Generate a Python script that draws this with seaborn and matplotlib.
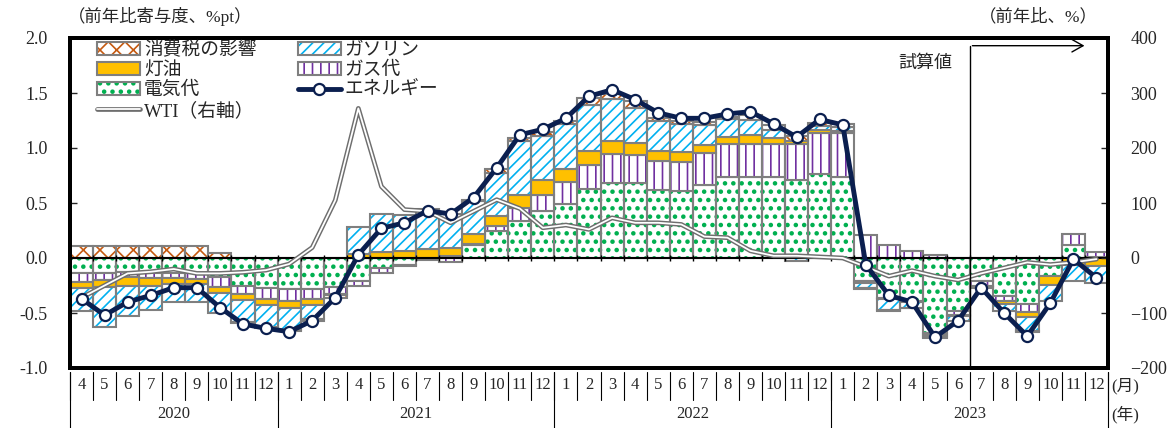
import matplotlib
matplotlib.use("Agg")
import matplotlib.hatch
import matplotlib.pyplot as plt
import numpy as np
import pandas as pd
import seaborn as sns
from matplotlib.lines import Line2D
from matplotlib.patches import Patch

# months from 2020/4 to 2023/12
months = list(range(4, 13)) + list(range(1, 13)) * 3
years = ["2020", "2021", "2022", "2023"]
year_lengths = [9, 12, 12, 12]

# contributions (%pt)
electricity = [-0.14, -0.14, -0.13, -0.14, -0.14, -0.14, -0.17, -0.25, -0.27, -0.285, -0.28, -0.265,
               -0.21, -0.09, -0.065, -0.02, 0.02, 0.12, 0.25, 0.335, 0.425, 0.49, 0.625, 0.68,
               0.68, 0.62, 0.605, 0.665, 0.735, 0.735, 0.735, 0.71, 0.76, 0.735, -0.21, -0.36,
               -0.39, -0.68, -0.485, -0.21, -0.345, -0.42, -0.165, 0.12, 0.01]
city_gas = [-0.08, -0.06, -0.04, -0.04, -0.04, -0.05, -0.095, -0.08, -0.10, -0.11, -0.095, -0.065,
            -0.045, -0.045, -0.01, 0.0, -0.035, 0.01, 0.045, 0.12, 0.15, 0.20, 0.22, 0.27,
            0.255, 0.26, 0.265, 0.29, 0.30, 0.30, 0.30, 0.33, 0.38, 0.40, 0.21, 0.12,
            0.06, 0.025, -0.03, -0.045, -0.05, -0.07, 0.0, 0.10, 0.04]
kerosene = [-0.05, -0.065, -0.08, -0.07, -0.06, -0.05, -0.05, -0.05, -0.055, -0.055, -0.055, -0.01,
            0.035, 0.055, 0.065, 0.085, 0.07, 0.085, 0.09, 0.12, 0.13, 0.115, 0.13, 0.115,
            0.11, 0.095, 0.095, 0.075, 0.065, 0.085, 0.055, 0.025, 0.02, 0.02, -0.02, -0.01,
            -0.01, -0.02, -0.01, -0.01, -0.025, -0.05, -0.08, -0.06, -0.075]
gasoline = [-0.21, -0.36, -0.28, -0.22, -0.16, -0.16, -0.185, -0.20, -0.20, -0.20, -0.125, 0.0,
            0.245, 0.345, 0.33, 0.355, 0.31, 0.30, 0.39, 0.49, 0.40, 0.415, 0.42, 0.38,
            0.32, 0.27, 0.25, 0.18, 0.16, 0.135, 0.07, -0.03, 0.04, 0.04, -0.045, -0.10,
            -0.05, -0.02, -0.045, -0.01, -0.06, -0.12, -0.145, -0.15, -0.15]
tax = [0.11, 0.11, 0.11, 0.11, 0.11, 0.11, 0.05, -0.01, -0.01, -0.015, -0.015, -0.02,
       0.0, 0.0, 0.0, 0.01, 0.0, 0.01, 0.03, 0.03, 0.045, 0.03, 0.06, 0.05,
       0.065, 0.025, 0.03, 0.03, 0.02, 0.045, 0.05, 0.04, 0.03, 0.02, -0.01, -0.01,
       -0.005, -0.01, 0.0, 0.0, 0.0, -0.01, 0.0, 0.0, 0.0]
energy = [-0.37, -0.52, -0.40, -0.34, -0.27, -0.27, -0.45, -0.60, -0.64, -0.67, -0.57, -0.36,
          0.03, 0.27, 0.32, 0.43, 0.40, 0.55, 0.82, 1.12, 1.17, 1.27, 1.47, 1.53,
          1.44, 1.32, 1.27, 1.27, 1.31, 1.33, 1.22, 1.10, 1.26, 1.21, -0.06, -0.34,
          -0.40, -0.72, -0.57, -0.27, -0.50, -0.71, -0.41, -0.01, -0.18]
# WTI, yoy % (right axis)
wti = [-72, -50, -28, -25, -20, -28, -28, -26, -22, -11, 19, 105,
       272, 130, 88, 85, 64, 85, 106, 90, 55, 60, 52, 73,
       64, 64, 61, 39, 37, 13, 4, 4, 2, 0, -16, -33,
       -23, -33, -40, -28, -18, -8, -12, -8, -2]

df = pd.DataFrame({"idx": np.arange(len(months)), "energy": energy, "wti": wti})

sns.set_style("white")
plt.rcParams["font.family"] = ["Liberation Serif", "Noto Sans CJK JP"]
plt.rcParams["hatch.linewidth"] = 1.2
matplotlib.hatch.SmallFilledCircles.size = 0.17

NAVY = "#0B1F4F"
EDGE = "#7F7F7F"

fig = plt.figure(figsize=(11.67, 4.28), dpi=100)
ax = fig.add_axes([70 / 1167, 60 / 428, 1038 / 1167, 330 / 428])
ax2 = ax.twinx()
ax3 = ax.twinx()

x = df["idx"].to_numpy()
layers = [
    ("電気代", electricity, "#00B050", ".."),
    ("ガス代", city_gas, "#7030A0", "||"),
    ("灯油", kerosene, "#FFC000", None),
    ("ガソリン", gasoline, "#00B0F0", "///"),
    ("消費税の影響", tax, "#C55A11", "xx"),
]
pos = np.zeros(len(x))
neg = np.zeros(len(x))
handles = {}
for name, vals, color, hatch in layers:
    vals = np.asarray(vals, dtype=float)
    bottom = np.where(vals >= 0, pos, neg)
    m = vals != 0
    if hatch:
        ax.bar(x[m], vals[m], 1.0, bottom=bottom[m], facecolor="white",
               edgecolor=color, hatch=hatch, linewidth=0, zorder=2)
        handles[name] = (Patch(facecolor="white", edgecolor=color, hatch=hatch, linewidth=0),
                         Patch(facecolor="none", edgecolor=EDGE, linewidth=1.5))
    else:
        ax.bar(x[m], vals[m], 1.0, bottom=bottom[m], color=color, linewidth=0, zorder=2)
        handles[name] = (Patch(facecolor=color, edgecolor=EDGE, linewidth=1.5),)
    ax.bar(x[m], vals[m], 1.0, bottom=bottom[m], facecolor="none",
           edgecolor=EDGE, linewidth=1.5, zorder=2)
    pos += np.clip(vals, 0, None)
    neg += np.clip(vals, None, 0)

ax.axhline(0, color="black", lw=1.5, zorder=3)
ax.vlines(np.arange(-0.5, len(x)), -0.025, 0.025, color="black", lw=1, zorder=3)

# WTI on the right axis, double line
sns.lineplot(data=df, x="idx", y="wti", ax=ax2, color="#6E6E6E", linewidth=3.4)
sns.lineplot(data=df, x="idx", y="wti", ax=ax2, color="white", linewidth=1.3)

sns.lineplot(data=df, x="idx", y="energy", ax=ax3, color=NAVY, linewidth=3.5,
             marker="o", markersize=8, markerfacecolor="white",
             markeredgecolor=NAVY, markeredgewidth=1.6)

for a in (ax, ax3):
    a.set_xlim(-0.5, len(x) - 0.5)
    a.set_ylim(-1.0, 2.0)
ax2.set_ylim(-200, 400)
for a in (ax, ax2, ax3):
    a.set_xlabel("")
    a.set_ylabel("")
    a.set_xticks([])

ax.set_yticks(np.arange(-1.0, 2.01, 0.5))
ax.set_yticklabels([f"{v:.1f}" for v in np.arange(-1.0, 2.01, 0.5)])
ax.tick_params(axis="y", direction="in", length=5, width=1, pad=16, labelsize=13, left=True)
ax2.set_yticks(range(-200, 401, 100))
ax2.tick_params(axis="y", direction="in", length=5, width=1, pad=16, labelsize=13, right=True)
ax3.axis("off")
for a in (ax, ax2):
    for s in a.spines.values():
        s.set_color("black")
        s.set_linewidth(2.8)

# estimate marker
split = 38.5
ax3.plot([split, split], [-1.0, 1.93], color="black", lw=1)
ax3.annotate("", xy=(43.6, 1.93), xytext=(split, 1.93),
             arrowprops=dict(arrowstyle="->,head_length=0.8,head_width=0.45", lw=1, color="black"))
ax3.text(36.6, 1.77, "試算値", ha="center", va="center", fontsize=13)

# category table under the axis
trans = ax.get_xaxis_transform()
for i, mth in enumerate(months):
    ax.text(i, -0.052, str(mth), transform=trans, ha="center", va="center", fontsize=12)
for b in np.arange(-0.5, len(x)):
    ax.plot([b, b], [-0.012, -0.097], transform=trans, clip_on=False, color="black", lw=0.8)
edges = np.concatenate([[0], np.cumsum(year_lengths)]) - 0.5
for b in edges:
    ax.plot([b, b], [-0.012, -0.182], transform=trans, clip_on=False, color="black", lw=0.8)
for yr, lo, hi in zip(years, edges[:-1], edges[1:]):
    ax.text((lo + hi) / 2, -0.14, yr, transform=trans, ha="center", va="center", fontsize=12)
ax.text(1.003, -0.055, "(月)", transform=ax.transAxes, ha="left", va="center", fontsize=12)
ax.text(1.003, -0.14, "(年)", transform=ax.transAxes, ha="left", va="center", fontsize=12)

fig.text(68 / 1167, 1 - 17 / 428, "（前年比寄与度、%pt）", ha="left", va="center", fontsize=12.5)
fig.text(1098 / 1167, 1 - 17 / 428, "（前年比、%）", ha="right", va="center", fontsize=12.5)

# legend
wti_handle = (Line2D([], [], color="#6E6E6E", lw=3.4), Line2D([], [], color="white", lw=1.3))
energy_handle = Line2D([], [], color=NAVY, lw=3.5, marker="o", markersize=8,
                       markerfacecolor="white", markeredgecolor=NAVY, markeredgewidth=1.6)
leg_handles = [handles["消費税の影響"], handles["灯油"], handles["電気代"], wti_handle,
               handles["ガソリン"], handles["ガス代"], energy_handle]
leg_labels = ["消費税の影響", "灯油", "電気代", "WTI（右軸）", "ガソリン", "ガス代", "エネルギー"]
ax3.legend(leg_handles, leg_labels, ncol=2, loc="upper left", bbox_to_anchor=(0.026, 0.99),
           frameon=False, fontsize=13.5, borderpad=0, handlelength=2.3, handleheight=0.65,
           handletextpad=0.2, labelspacing=0.15, columnspacing=2.2, borderaxespad=0)

fig.savefig("out.png", dpi=100)
